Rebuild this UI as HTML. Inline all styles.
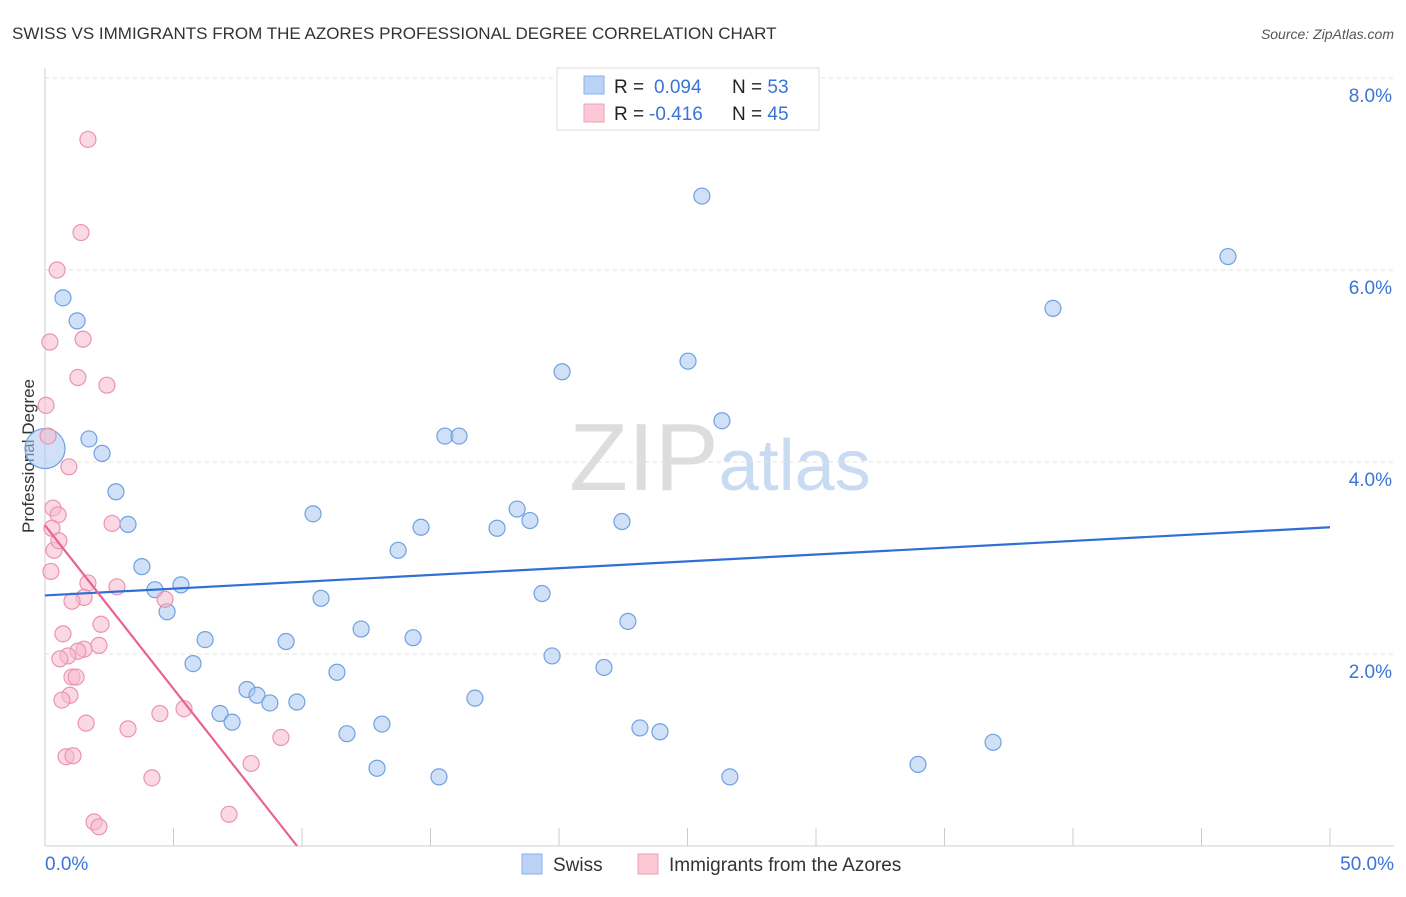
<!DOCTYPE html>
<html><head><meta charset="utf-8"><style>
body{margin:0;background:#fff;font-family:"Liberation Sans",sans-serif;}
svg text{font-family:"Liberation Sans",sans-serif;}
</style></head><body>
<svg id="chart" width="1406" height="892" xmlns="http://www.w3.org/2000/svg">
<text x="12" y="39" font-size="17" fill="#333">SWISS VS IMMIGRANTS FROM THE AZORES PROFESSIONAL DEGREE CORRELATION CHART</text>
<text x="1394" y="39" font-size="14" fill="#555" font-style="italic" text-anchor="end">Source: ZipAtlas.com</text>
<text x="34" y="456" font-size="17" fill="#333" text-anchor="middle" transform="rotate(-90 34 456)">Professional Degree</text>
<text x="720" y="490" font-size="96" fill="#ddd" text-anchor="middle" font-family="Liberation Serif">ZIP<tspan fill="#c9daf3" font-family="Liberation Sans" font-size="72">atlas</tspan></text>
<g id="grid"></g><g id="axes"></g><g id="pts"></g><g id="lines"></g>
<g>
<rect x="557" y="68" width="262" height="62" fill="#fff" stroke="#ddd"/>
<rect x="584" y="76" width="20" height="18" fill="#b9d2f5" stroke="#8ab0e8"/>
<rect x="584" y="104" width="20" height="18" fill="#fcc8d6" stroke="#eea0b8"/>
<text x="614" y="93" font-size="19" fill="#222">R = <tspan x="654" fill="#3a74d6">0.094</tspan><tspan x="732" fill="#222">N = </tspan><tspan fill="#3a74d6">53</tspan></text>
<text x="614" y="120" font-size="19" fill="#222">R = <tspan x="649" fill="#3a74d6">-0.416</tspan><tspan x="732" fill="#222">N = </tspan><tspan fill="#3a74d6">45</tspan></text>
</g>
<g>
<rect x="522" y="854" width="20" height="20" fill="#b9d2f5" stroke="#8ab0e8"/>
<text x="553" y="871" font-size="19" fill="#333">Swiss</text>
<rect x="638" y="854" width="20" height="20" fill="#fcc8d6" stroke="#eea0b8"/>
<text x="669" y="871" font-size="19" fill="#333">Immigrants from the Azores</text>
</g>
</svg>
<script>
const xTicks=[0,5,10,15,20,25,30,35,40,45,50];
const yTicks=[2,4,6,8];
const swissX=[0.70,1.25,1.71,2.22,0,2.76,3.23,3.77,4.28,5.29,4.75,6.23,5.76,6.81,7.28,7.86,8.25,8.75,9.38,9.80,10.43,10.74,11.36,11.75,12.30,12.92,13.11,13.74,14.32,14.63,15.33,15.56,16.11,16.73,17.59,18.37,18.87,19.34,19.73,20.12,21.75,22.45,22.68,23.15,23.93,25.02,25.56,26.34,26.65,33.97,36.89,39.22,46.03];
const swissY=[5.71,5.47,4.24,4.09,4.14,3.69,3.35,2.91,2.67,2.72,2.44,2.15,1.90,1.38,1.29,1.63,1.57,1.49,2.13,1.50,3.46,2.58,1.81,1.17,2.26,0.81,1.27,3.08,2.17,3.32,0.72,4.27,4.27,1.54,3.31,3.51,3.39,2.63,1.98,4.94,1.86,3.38,2.34,1.23,1.19,5.05,6.77,4.43,0.72,0.85,1.08,5.60,6.14];
const azX=[1.67,1.40,0.47,1.48,0.19,1.28,2.41,0.04,0.12,0.93,0.31,0.51,2.61,0.27,0.35,0.54,0.23,1.67,2.80,1.52,1.05,4.67,0.70,2.18,2.10,1.52,1.28,0.89,0.58,1.05,1.21,0.97,0.66,1.60,3.23,4.47,5.41,9.18,0.82,1.09,4.16,8.02,1.91,2.10,7.16];
const azY=[7.36,6.39,6.00,5.28,5.25,4.88,4.80,4.59,4.27,3.95,3.52,3.45,3.36,3.31,3.08,3.18,2.86,2.74,2.70,2.59,2.55,2.57,2.21,2.31,2.09,2.05,2.03,1.98,1.95,1.76,1.76,1.57,1.52,1.28,1.22,1.38,1.43,1.13,0.93,0.94,0.71,0.86,0.25,0.20,0.33];
const swissLine=[2.61,3.32]; // y at x=0 and x=50
const azLine=[3.34,-0.416*0.8186]; // intercept, slope
const NS="http://www.w3.org/2000/svg";
const X=v=>45+v*25.7, Y=v=>846-v*96;
function mk(t,a,p){const e=document.createElementNS(NS,t);for(const k in a)e.setAttribute(k,a[k]);document.getElementById(p).appendChild(e);return e;}
yTicks.forEach(t=>{
 const g=mk('line',{x1:45,x2:1394,y1:Y(t),y2:Y(t),stroke:'#e2e2e2','stroke-dasharray':'4,4'},'grid');
 
 
 const l=mk('text',{x:1392,y:Y(t)+24,'font-size':19,fill:'#3a74d6','text-anchor':'end'},'axes');l.textContent=t.toFixed(1)+'%';
 
 
});
mk('line',{x1:45,x2:1394,y1:846,y2:846,stroke:'#ccc'},'axes');
mk('line',{x1:45,x2:45,y1:68,y2:846,stroke:'#ccc'},'axes');
xTicks.forEach(t=>{const k=mk('line',{x1:X(t),x2:X(t),y1:828,y2:846,stroke:'#ccc'},'axes');
 
 });
[[0,'0.0%','start',45],[50,'50.0%','end',1394]].forEach(a=>{const l=mk('text',{x:a[3],y:870,'font-size':19,fill:'#3a74d6','text-anchor':a[2]},'axes');l.textContent=a[1];
 
 });
swissX.forEach((v,i)=>{const c=mk('circle',{cx:X(v),cy:Y(swissY[i]),r:(v===0?20:8),fill:'rgba(170,200,240,0.55)',stroke:'#6fa0e2','stroke-width':1.2},'pts');
 
 });
azX.forEach((v,i)=>{const c=mk('circle',{cx:X(v),cy:Y(azY[i]),r:8,fill:'rgba(248,185,205,0.55)',stroke:'#ec93b0','stroke-width':1.2},'pts');
 
 });
const bl=mk('line',{x1:X(0),y1:Y(swissLine[0]),x2:X(50),y2:Y(swissLine[1]),stroke:'#2f6fd6','stroke-width':2.2},'lines');


const xe=-azLine[0]/azLine[1];
const pl=mk('line',{x1:X(0),y1:Y(azLine[0]),x2:X(xe),y2:Y(0),stroke:'#e8638f','stroke-width':2.2},'lines');


</script>
</body></html>
